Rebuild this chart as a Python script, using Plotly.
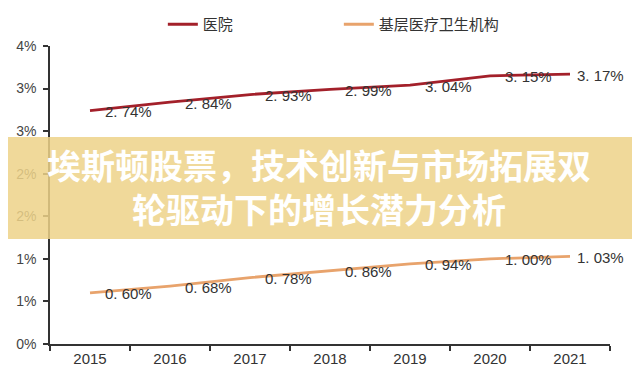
import plotly.graph_objects as go

years = ["2015", "2016", "2017", "2018", "2019", "2020", "2021"]
hospital = [2.74, 2.84, 2.93, 2.99, 3.04, 3.15, 3.17]
primary = [0.60, 0.68, 0.78, 0.86, 0.94, 1.00, 1.03]
series_names = ["医院", "基层医疗卫生机构"]
y_tickvals = [0, 0.5, 1.0, 1.5, 2.0, 2.5, 3.0, 3.5]
y_ticktext = ["0%", "1%", "1%", "2%", "2%", "3%", "3%", "4%"]
overlay_title = "埃斯顿股票，技术创新与市场拓展双<br>轮驱动下的增长潜力分析"

colors = ["#a3202a", "#e8a36c"]
label_xshift = [38, 38, 38, 38, 38, 38, 30]

fig = go.Figure()
for name, vals, col in zip(series_names, [hospital, primary], colors):
    fig.add_trace(go.Scatter(x=years, y=vals, mode="lines", name=name,
                             line=dict(color=col, width=2.8)))

annotations = []
for vals in [hospital, primary]:
    for i, v in enumerate(vals):
        annotations.append(dict(
            x=i, y=v, xref="x", yref="y", showarrow=False,
            text=f"{v:.2f}%".replace(".", ". "),
            xshift=label_xshift[i], yshift=-1,
            font=dict(family="Liberation Sans, Arial", size=15, color="#333333"),
        ))

# overlay banner
annotations.append(dict(
    x=0.48, y=0.53, xref="paper", yref="paper", showarrow=False,
    text=overlay_title, align="center",
    font=dict(family="Noto Sans CJK SC", size=34, color="#ffffff", weight="bold"),
))

fig.update_layout(
    width=632, height=368,
    margin=dict(l=42, r=30, t=38, b=32, autoexpand=False),
    paper_bgcolor="white", plot_bgcolor="white",
    showlegend=True,
    legend=dict(orientation="h", xref="container", yref="container",
                x=0.245, y=1.0, xanchor="left", yanchor="top",
                font=dict(family="Noto Sans CJK SC", size=15, color="#333333"),
                entrywidth=131, bgcolor="rgba(0,0,0,0)", borderwidth=0),
    xaxis=dict(type="category", range=[-0.5, 6.5], showgrid=False,
               showline=True, linecolor="#333333", linewidth=1.5,
               ticks="outside", tickson="boundaries", ticklen=5,
               tickcolor="#333333", tickwidth=1.5,
               tickfont=dict(family="Liberation Sans, Arial", size=15, color="#333333")),
    yaxis=dict(range=[0, 3.5], tickvals=y_tickvals, ticktext=y_ticktext,
               showgrid=False, zeroline=False,
               showline=True, linecolor="#333333", linewidth=1.5,
               ticks="outside", ticklen=5, tickcolor="#333333", tickwidth=1.5,
               ticklabelstandoff=4,
               tickfont=dict(family="Liberation Sans, Arial", size=14, color="#444444")),
    shapes=[dict(type="rect", xref="paper", yref="paper",
                 x0=-0.1, x1=1.06, y0=0.3523, y1=0.6946,
                 fillcolor="rgba(237,210,136,0.85)", line=dict(width=0),
                 layer="above")],
    annotations=annotations,
)

fig.write_html("out.html")
